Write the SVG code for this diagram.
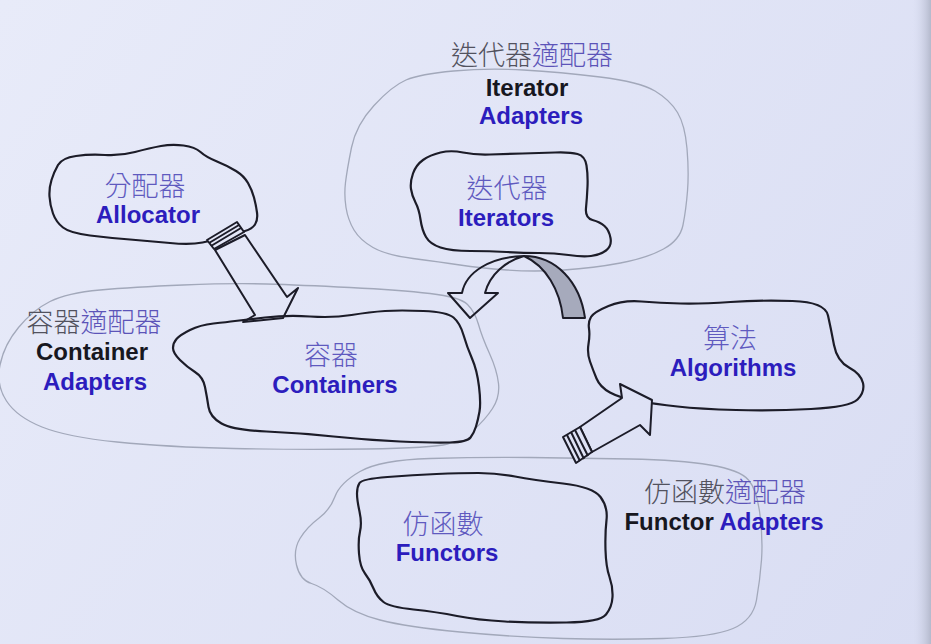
<svg xmlns="http://www.w3.org/2000/svg" width="931" height="644" viewBox="0 0 931 644">
<defs>
<linearGradient id="bg" gradientUnits="userSpaceOnUse" x1="0" y1="0" x2="931" y2="644">
<stop offset="0" stop-color="#e8ebf9"/>
<stop offset="1" stop-color="#d9ddf3"/>
</linearGradient>
<linearGradient id="edge" x1="0" y1="0" x2="1" y2="0">
<stop offset="0" stop-color="#d9ddf2" stop-opacity="0"/>
<stop offset="1" stop-color="#b4b9cc"/>
</linearGradient>
<style>
.blob{fill:url(#bg);stroke:#1c1c28;stroke-width:2.2;stroke-linejoin:round}
.cloud{fill:none;stroke:#a2a8ba;stroke-width:1.3}
.zh{font-family:"Noto Sans CJK TC","Noto Sans CJK SC",sans-serif;font-size:27px;font-weight:300;text-anchor:middle}
.zhn{fill:#5f5abf}
.zhg{fill:#52525e}
.zhp{fill:#5c54b8}
.en{font-family:"Liberation Sans",Arial,sans-serif;font-size:24px;font-weight:bold;text-anchor:middle}
.blue{fill:#2c1dbd}
.blk{fill:#17171f}
.arr{stroke:#1c1c28;stroke-width:2;stroke-linejoin:round}
</style>
</defs>
<rect x="0" y="0" width="931" height="644" fill="url(#bg)"/>
<rect x="912" y="0" width="19" height="644" fill="url(#edge)"/>

<g id="iterator-adapters">
<path class="cloud" d="M345.5,182.5 Q347,170 351.5,147.5 Q356,125 374,105.5 Q392,86 406,80 Q420,74 453.5,71 Q487,68 523.5,70 Q560,72 600,77 Q640,82 655,91 Q670,100 677.5,112.5 Q685,125 687,148.5 Q689,172 687.5,191 Q686,210 683,225 Q680,240 663.5,249 Q647,258 620.5,263 Q594,268 564,270 Q534,272 507,270 Q480,268 460,265 Q440,262 413,258.5 Q386,255 373,247.5 Q360,240 354,230 Q348,220 346,207.5 Q344,195 345.5,182.5 Z"/>
<text class="zh" x="532" y="65"><tspan class="zhg">迭代器</tspan><tspan class="zhp">適配器</tspan></text>
<text class="en blk" x="527" y="96">Iterator</text>
<text class="en blue" x="531" y="124">Adapters</text>
</g>

<g id="container-adapters">
<path class="cloud" d="M6.5,401 Q-4,385 0,365 Q4,345 18.5,327.5 Q33,310 50,301.5 Q67,293 100,290 Q133,287 183,285 Q233,283 266.5,284 Q300,285 350,287.5 Q400,290 430,293.5 Q460,297 467.5,304.5 Q475,312 478.5,324.5 Q482,337 489.5,353.5 Q497,370 498.5,383.5 Q500,397 492.5,408.5 Q485,420 473.5,430 Q462,440 447.5,444 Q433,448 366.5,449 Q300,450 233.5,448.5 Q167,447 117,442 Q67,437 42,427 Q17,417 6.5,401 Z"/>
<text class="zh" x="94" y="332"><tspan class="zhg">容器</tspan><tspan class="zhp">適配器</tspan></text>
<text class="en blk" x="92" y="360">Container</text>
<text class="en blue" x="95" y="390">Adapters</text>
</g>

<g id="functor-adapters">
<path class="cloud" d="M335,496.5 Q340,483 360,471.5 Q380,460 430,458.5 Q480,457 530,457.5 Q580,458 630,459 Q680,460 710,465 Q740,470 748.5,480 Q757,490 760,515 Q763,540 761.5,560 Q760,580 756.5,600 Q753,620 733,628.5 Q713,637 663,638.5 Q613,640 563,638.5 Q513,637 460,632 Q407,627 380,620 Q353,613 338,600 Q323,587 311.5,583.5 Q300,580 296.5,565 Q293,550 300,538.5 Q307,527 318.5,518.5 Q330,510 335,496.5 Z"/>
<text class="zh" x="725" y="502"><tspan class="zhg">仿函數</tspan><tspan class="zhp">適配器</tspan></text>
<text class="en" x="724" y="530"><tspan class="blk">Functor </tspan><tspan class="blue">Adapters</tspan></text>
</g>

<g id="allocator">
<path class="blob" d="M58,165 Q62,158 76,156 Q90,154 105,155 Q120,156 135,152 Q150,148 161,146 Q172,144 183.5,145.5 Q195,147 200.5,152 Q206,157 217,161.5 Q228,166 236,171 Q244,176 248,183 Q252,190 254,197.5 Q256,205 257,212.5 Q258,220 255,224.5 Q252,229 245,231 Q238,233 226.5,236.5 Q215,240 202.5,242.5 Q190,245 170,243 Q150,241 130,239.5 Q110,238 90,235.5 Q70,233 63,227.5 Q56,222 53,213.5 Q50,205 49.5,196.5 Q49,188 51.5,180 Q54,172 58,165 Z"/>
<text class="zh zhn" x="145" y="196">分配器</text>
<text class="en blue" x="148" y="223">Allocator</text>
</g>

<g id="iterators">
<path class="blob" d="M413,173.5 Q416,165 423,160 Q430,155 440.5,152.5 Q451,150 463,152.5 Q475,155 490,154.5 Q505,154 522.5,153.5 Q540,153 555,152.5 Q570,152 577.5,154 Q585,156 586.5,165.5 Q588,175 587.5,186.5 Q587,198 586,208 Q585,218 592.5,220 Q600,222 604.5,226 Q609,230 610.5,238 Q612,246 606,250.5 Q600,255 591,256 Q582,257 568.5,255 Q555,253 539,253 Q523,253 506.5,252 Q490,251 470.5,251 Q451,251 440.5,247.5 Q430,244 426,237 Q422,230 420.5,219.5 Q419,209 415.5,202.5 Q412,196 411,189 Q410,182 413,173.5 Z"/>
<text class="zh zhn" x="507" y="198">迭代器</text>
<text class="en blue" x="506" y="226">Iterators</text>
</g>

<g id="containers">
<path class="blob" d="M173,348 Q173,343 176.5,339 Q180,335 190,330 Q200,325 213.5,323.5 Q227,322 235,321 Q243,320 265,317.5 Q287,315 310,316.5 Q333,318 351.5,315 Q370,312 385,311 Q400,310 423.5,311 Q447,312 453.5,317.5 Q460,323 463.5,335 Q467,347 472,358.5 Q477,370 479,386.5 Q481,403 479.5,411.5 Q478,420 476,426.5 Q474,433 470.5,437.5 Q467,442 450,442.5 Q433,443 400,441.5 Q367,440 333.5,436.5 Q300,433 266.5,431.5 Q233,430 221.5,423.5 Q210,417 208.5,407 Q207,397 205,387 Q203,377 195,372 Q187,367 180,360 Q173,353 173,348 Z"/>
<text class="zh zhn" x="331" y="365">容器</text>
<text class="en blue" x="335" y="393">Containers</text>
</g>

<g id="algorithms">
<path class="blob" d="M591,317 Q594,312 608.5,306 Q623,300 641.5,301.5 Q660,303 680.5,303.5 Q701,304 730.5,302 Q760,300 792.5,301 Q825,302 828,315.5 Q831,329 834,345 Q837,361 849,367.5 Q861,374 863,383 Q865,392 857.5,399.5 Q850,407 811,409 Q772,411 736,410 Q700,409 677.5,406.5 Q655,404 637.5,401 Q620,398 610,392.5 Q600,387 596.5,378.5 Q593,370 590,361.5 Q587,353 588.5,344 Q590,335 589,328.5 Q588,322 591,317 Z"/>
<text class="zh zhn" x="730" y="348">算法</text>
<text class="en blue" x="733" y="376">Algorithms</text>
</g>

<g id="functors">
<path class="blob" d="M359.5,483 Q362,479 387.5,477 Q413,475 436.5,474 Q460,473 478.5,473 Q497,473 515,476.5 Q533,480 563,483.5 Q593,487 600.5,497 Q608,507 606.5,520 Q605,533 605.5,550 Q606,567 609.5,577 Q613,587 612.5,597 Q612,607 606,614.5 Q600,622 566.5,622.5 Q533,623 505,621.5 Q477,620 457,616 Q437,612 413.5,609.5 Q390,607 383.5,602 Q377,597 373.5,588.5 Q370,580 365,573.5 Q360,567 359,553.5 Q358,540 360,531.5 Q362,523 359.5,511.5 Q357,500 357,493.5 Q357,487 359.5,483 Z"/>
<text class="zh zhn" x="443" y="534">仿函數</text>
<text class="en blue" x="447" y="561">Functors</text>
</g>

<g id="connectors">
<g id="allocator-to-containers">
<path class="arr" fill="none" d="M245,235 L287,297 L298,288 L283,318 L243,322 L255,315 L215,250 Z"/>
<path class="arr" fill="url(#bg)" d="M207,240 L237,222 L244,232 L214,249 Z"/>
<path class="arr" fill="none" stroke-width="1.6" d="M209,243 L239,225 M211,246 L241,228"/>
</g>
<g id="iterators-to-containers">
<path class="arr" fill="#a6aabc" d="M524,256 C556,256 580,282 585,318 L563,318 C560,290 546,266 524,256 Z"/>
<path class="arr" fill="none" d="M462,293 C466,272 490,257 524,256 C506,261 490,274 485,293 L498,293 L470,318 L448,293 Z"/>
</g>
<g id="functors-to-algorithms">
<path class="arr" fill="url(#bg)" d="M580,427 L622,398 L620,384 L652,400 L650,435 L640,425 L592,452 Z"/>
<path class="arr" fill="url(#bg)" d="M563,437 L580,427 L592,452 L576,463 Z"/>
<path class="arr" fill="none" stroke-width="1.5" d="M567,435 L580,461 M571,432 L584,459 M575,430 L588,456"/>
</g>
</g>
</svg>
